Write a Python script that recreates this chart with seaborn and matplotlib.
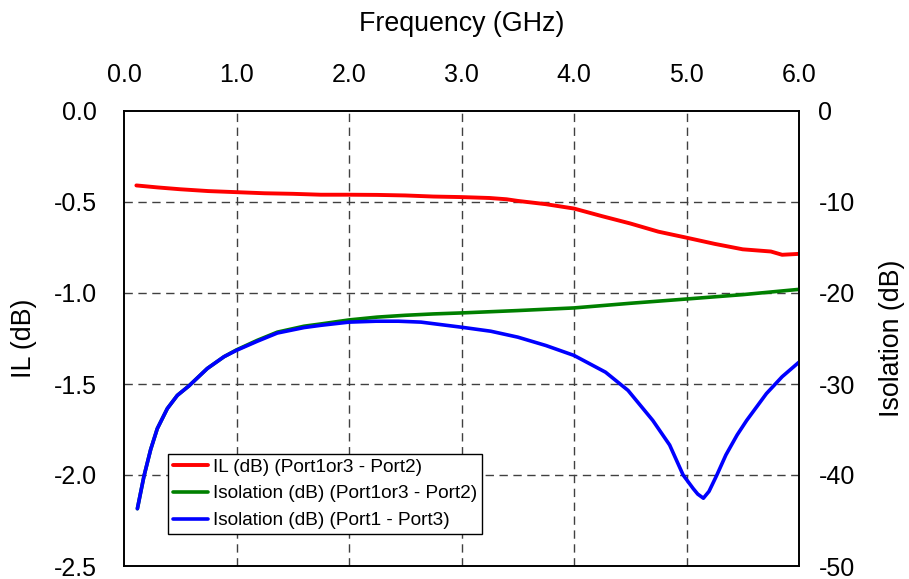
import numpy as np
import pandas as pd
import matplotlib
matplotlib.use("Agg")
import matplotlib.pyplot as plt
import seaborn as sns

# Insertion loss, Port1or3 -> Port2
freq_il = [0.11, 0.3, 0.5, 0.75, 1.0, 1.25, 1.5, 1.75, 2.0, 2.25, 2.5, 2.75,
           3.0, 3.25, 3.4, 3.5, 3.75, 4.0, 4.25, 4.5, 4.75, 5.0, 5.25, 5.5,
           5.75, 5.85, 6.0]
il_db = [-0.409, -0.42, -0.43, -0.44, -0.446, -0.452, -0.455, -0.46, -0.46,
         -0.461, -0.464, -0.47, -0.473, -0.478, -0.485, -0.494, -0.512, -0.536,
         -0.578, -0.618, -0.663, -0.696, -0.73, -0.76, -0.772, -0.79, -0.785]

# Isolation, Port1or3 -> Port2
freq_iso_a = [0.119, 0.15, 0.178, 0.237, 0.296, 0.385, 0.474, 0.578, 0.74,
              0.889, 1.0, 1.185, 1.363, 1.6, 1.75, 2.0, 2.25, 2.5, 2.75, 3.0,
              3.5, 4.0, 4.5, 5.0, 5.5, 6.0]
iso_a_db = [-43.7, -41.8, -40.1, -37.2, -34.9, -32.7, -31.25, -30.2, -28.3,
            -27.0, -26.25, -25.2, -24.3, -23.65, -23.4, -22.96, -22.65, -22.45,
            -22.3, -22.19, -21.93, -21.64, -21.13, -20.66, -20.18, -19.6]

# Isolation, Port1 -> Port3
freq_iso_b = [0.119, 0.15, 0.178, 0.237, 0.296, 0.385, 0.474, 0.578, 0.74,
              0.889, 1.0, 1.185, 1.363, 1.6, 1.75, 2.0, 2.24, 2.44, 2.64, 3.0,
              3.26, 3.5, 3.75, 4.0, 4.28, 4.48, 4.70, 4.85, 4.97, 5.06, 5.10,
              5.15, 5.20, 5.27, 5.35, 5.45, 5.535, 5.71, 5.85, 6.0]
iso_b_db = [-43.7, -41.8, -40.1, -37.2, -34.9, -32.7, -31.25, -30.2, -28.3,
            -27.0, -26.3, -25.3, -24.4, -23.8, -23.55, -23.2, -23.1, -23.1,
            -23.2, -23.76, -24.2, -24.85, -25.77, -26.86, -28.7, -30.7, -34.0,
            -36.7, -40.0, -41.5, -42.1, -42.55, -41.8, -40.0, -37.8, -35.6,
            -34.0, -31.06, -29.2, -27.6]

labels = ["IL (dB) (Port1or3 - Port2)",
          "Isolation (dB) (Port1or3 - Port2)",
          "Isolation (dB) (Port1 - Port3)"]
colors = ["#ff0000", "#008000", "#0000ff"]

sns.set_theme(style="white")
plt.rcParams["font.family"] = ["Liberation Sans", "DejaVu Sans"]
plt.rcParams["axes.unicode_minus"] = False

fig = plt.figure(figsize=(9.09, 5.79), dpi=100)
ax = fig.add_axes([124 / 909, 1 - 566 / 579, (799 - 124) / 909, (566 - 111) / 579])
ax2 = ax.twinx()

df_il = pd.DataFrame({"f": freq_il, "v": il_db})
df_a = pd.DataFrame({"f": freq_iso_a, "v": iso_a_db})
df_b = pd.DataFrame({"f": freq_iso_b, "v": iso_b_db})

sns.lineplot(data=df_il, x="f", y="v", ax=ax, color=colors[0], lw=2.8,
             sort=False, label=labels[0], legend=False)
sns.lineplot(data=df_a, x="f", y="v", ax=ax2, color=colors[1], lw=2.6,
             sort=False, label=labels[1], legend=False)
sns.lineplot(data=df_b, x="f", y="v", ax=ax2, color=colors[2], lw=2.6,
             sort=False, label=labels[2], legend=False)

ax.set_xlim(0, 6)
ax.set_ylim(-2.5, 0)
ax2.set_ylim(-50, 0)

ax.xaxis.tick_top()
ax.xaxis.set_label_position("top")
xt = np.arange(0, 6.01, 1.0)
ax.set_xticks(xt)
ax.set_xticklabels([f"{v:.1f}" for v in xt])
yt = np.arange(-2.5, 0.01, 0.5)
ax.set_yticks(yt)
ax.set_yticklabels([f"{v:.1f}" for v in yt])
ax2.set_yticks(np.arange(-50, 1, 10))

fs_tick = 18
fs_lab = 19.3
ax.tick_params(axis="x", length=0, pad=17, labelsize=fs_tick, colors="black")
ax.tick_params(axis="y", length=0, pad=19.5, labelsize=fs_tick, colors="black")
ax2.tick_params(axis="y", length=0, pad=14, labelsize=fs_tick, colors="black")

ax.set_xlabel("Frequency (GHz)", fontsize=fs_lab, labelpad=23, color="black")
ax.set_ylabel("IL (dB)", fontsize=fs_lab, labelpad=12, color="black")
ax2.set_ylabel("Isolation (dB)", fontsize=fs_lab, labelpad=17.5, color="black")

# interior dashed grid only
for xv in range(1, 6):
    ax.axvline(xv, color="#404040", lw=1.0, ls=(0, (6, 4)), zorder=0.5)
for yv in [-0.5, -1.0, -1.5, -2.0]:
    ax.axhline(yv, color="#404040", lw=1.0, ls=(0, (6, 4)), zorder=0.5)

for a in (ax, ax2):
    for s in a.spines.values():
        s.set_color("black")
        s.set_linewidth(1.2)

h1, l1 = ax.get_legend_handles_labels()
h2, l2 = ax2.get_legend_handles_labels()
leg = ax2.legend(h1 + h2, l1 + l2, loc="lower left",
                 bbox_to_anchor=((168 - 124) / 675, (566 - 534) / 455),
                 borderaxespad=0, fontsize=13.7, handlelength=1.85,
                 handletextpad=0.25, labelspacing=0.5, borderpad=0.25,
                 frameon=True, fancybox=False, framealpha=1)
leg.get_frame().set_edgecolor("black")
leg.get_frame().set_linewidth(1.0)
for t in leg.get_texts():
    t.set_color("black")

fig.savefig("out.png", dpi=100)
